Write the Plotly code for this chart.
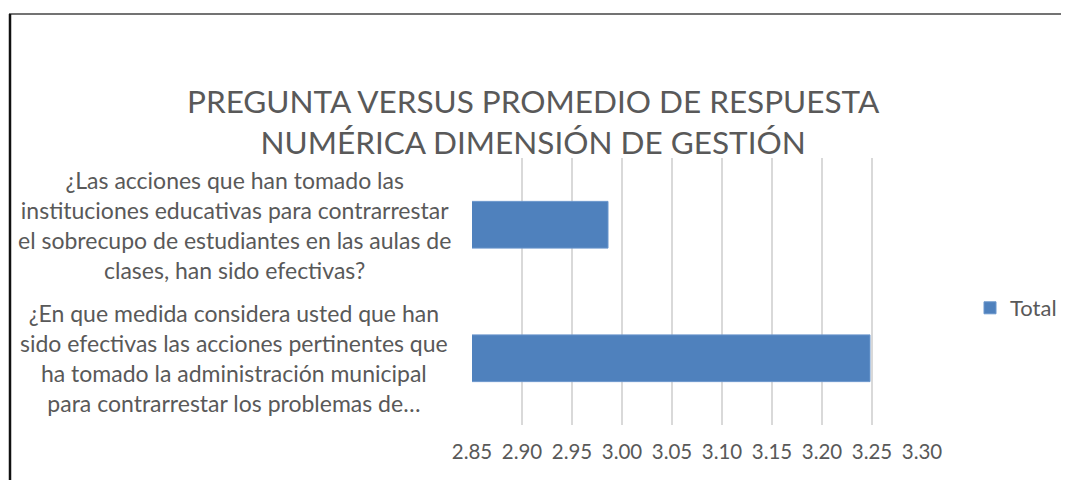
import plotly.graph_objects as go

categories = [
    "¿En que medida considera usted que han<br>sido efectivas las acciones pertinentes que<br>ha tomado la administración municipal<br>para contrarrestar los problemas de…",
    "¿Las acciones que han tomado las<br>instituciones educativas para contrarrestar<br>el sobrecupo de estudiantes en las aulas de<br>clases, han sido efectivas?",
]
values = [3.248, 2.986]
series_name = "Total"
tick_vals = [2.85, 2.90, 2.95, 3.00, 3.05, 3.10, 3.15, 3.20, 3.25, 3.30]
tick_text = ["2.85", "2.90", "2.95", "3.00", "3.05", "3.10", "3.15", "3.20", "3.25", "3.30"]
title_text = "PREGUNTA VERSUS PROMEDIO DE RESPUESTA<br>NUMÉRICA DIMENSIÓN DE GESTIÓN"

# page has an 8px body margin; figure coordinates are page coordinates minus 8
W, H = 1061, 472
L, R, T, B = 464, 147, 150, 55
FONT = "Lato"
GRAY = "#595959"
pw = W - L - R
ph = H - T - B

fig = go.Figure()
fig.add_trace(go.Bar(
    y=categories, x=values, orientation="h", name=series_name,
    marker=dict(color="#4f81bd", line=dict(color="#6a96cc", width=1)),
))

annotations = []
for c in categories:
    annotations.append(dict(
        xref="paper", yref="y", x=-(L - 226) / pw, y=c,
        text=c, showarrow=False, align="center", xanchor="center", yanchor="middle",
        font=dict(family=FONT, size=23, color=GRAY),
    ))
annotations.append(dict(
    xref="paper", yref="paper", x=(525 - L) / pw, y=(H - B - 113) / ph,
    text=title_text, showarrow=False, align="center", xanchor="center", yanchor="middle",
    font=dict(family=FONT, size=31.5, color=GRAY),
))

shapes = [
    dict(type="line", xref="paper", yref="paper",
         x0=(1 - L) / pw, x1=(W + 5 - L) / pw,
         y0=(H - B - 6) / ph, y1=(H - B - 6) / ph,
         line=dict(color="#444444", width=1.5)),
    dict(type="line", xref="paper", yref="paper",
         x0=(2 - L) / pw, x1=(2 - L) / pw,
         y0=(H - B - 6) / ph, y1=(H - B - 490) / ph,
         line=dict(color="#111111", width=2.5)),
]

fig.update_layout(
    width=W, height=H,
    margin=dict(l=L, r=R, t=T, b=B, pad=0, autoexpand=False),
    paper_bgcolor="white", plot_bgcolor="white",
    bargap=0.65,
    showlegend=True,
    legend=dict(xref="container", yref="container", x=962 / W, y=1 - 300 / H,
                xanchor="left", yanchor="middle",
                font=dict(family=FONT, size=22, color=GRAY), itemwidth=30,
                bgcolor="rgba(0,0,0,0)"),
    xaxis=dict(range=[2.85, 3.30], tickvals=tick_vals, ticktext=tick_text,
               showgrid=True, gridcolor="#d9d9d9", gridwidth=1.5, zeroline=False,
               showline=False, ticks="outside", ticklen=8, tickcolor="rgba(0,0,0,0)",
               automargin=False,
               tickfont=dict(family=FONT, size=20.5, color=GRAY)),
    yaxis=dict(showticklabels=False, showgrid=False, zeroline=False, showline=False,
               automargin=False),
    annotations=annotations,
    shapes=shapes,
)

fig.write_html("out.html")
